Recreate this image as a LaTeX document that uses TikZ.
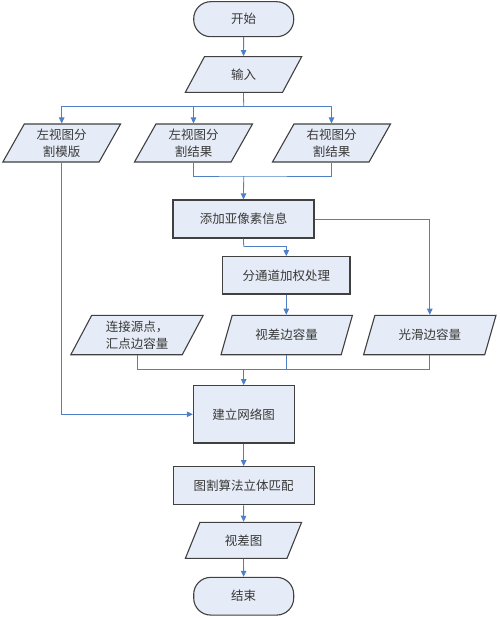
\documentclass[tikz,border=0pt]{standalone}
\usepackage{fontspec}
\setmainfont{Noto Sans CJK SC}
\usetikzlibrary{shapes.geometric,arrows.meta}
\definecolor{boxfill}{HTML}{E6ECF7}
\definecolor{boxline}{HTML}{404040}
\definecolor{linkc}{HTML}{4F7FC4}
\definecolor{txt}{HTML}{383838}
\tikzset{
  base/.style={draw=boxline,line width=1.1pt,fill=boxfill,text=txt,
    font=\fontsize{12.5}{17}\selectfont,inner sep=1pt,align=center},
  procbox/.style={base,rectangle,minimum width=#1},
  term/.style={base,rectangle,rounded corners=17pt,minimum width=100pt},
  iobox/.style={base,trapezium,trapezium left angle=64,trapezium right angle=116,
    trapezium stretches=true},
  link/.style={draw=linkc,line width=0.8pt},
  arr/.style={link,-{Triangle[length=6pt,width=5.5pt]}}
}
\begin{document}
\begin{tikzpicture}[x=1pt,y=-1pt]
\useasboundingbox (0,0) rectangle (500,618);
% nodes
\node[term,minimum height=35pt] (start) at (243.7,19.2) {开始};
\node[iobox,minimum width=116.7pt,minimum height=35.6pt] (in) at (243.5,74.5) {输入};
\node[iobox,minimum width=118pt,minimum height=38pt] (p1) at (61.7,143) {左视图分\\割模版};
\node[iobox,minimum width=118.4pt,minimum height=38pt] (p2) at (193.5,143) {左视图分\\割结果};
\node[iobox,minimum width=118.4pt,minimum height=38pt] (p3) at (331.5,143) {右视图分\\割结果};
\node[procbox=141pt,minimum height=38pt] (add) at (243.5,219) {添加亚像素信息};
\node[procbox=127.3pt,minimum height=37.3pt] (ch) at (286.3,275.3) {分通道加权处理};
\node[iobox,minimum width=132.6pt,minimum height=39.4pt] (p4) at (137,335) {连接源点，\\汇点边容量};
\node[iobox,minimum width=132pt,minimum height=39.4pt] (p5) at (286.7,335) {视差边容量};
\node[iobox,minimum width=133pt,minimum height=39.4pt] (p6) at (429.8,335) {光滑边容量};
\node[procbox=100.7pt,minimum height=57.3pt] (net) at (243.7,414.3) {建立网络图};
\node[procbox=141.3pt,minimum height=38pt] (cut) at (243.7,485.7) {图割算法立体匹配};
\node[iobox,minimum width=116.7pt,minimum height=36pt] (disp) at (243.5,540.3) {视差图};
\node[term,minimum height=37.7pt] (end) at (243.7,596.2) {结束};
% junction coordinates
\coordinate (b1) at (243.7,106);
\coordinate (j1) at (243.7,176);
\coordinate (j2) at (243.7,369);
\coordinate (b2) at (243.7,246.7);
% connectors
\draw[arr] (start) -- (in);
\draw[link] (in.south) -- (b1);
\draw[arr] (b1) -| (p1.north);
\draw[arr] (b1) -| (p2.north);
\draw[arr] (b1) -| (p3.north);
\draw[link] (p2.south) |- (j1) -| (p3.south);
\draw[arr] (j1) -- (add.north);
\draw[link] (add.south) -- (b2);
\draw[arr] (b2) -| (ch.north);
\draw[arr] (add.east) -| (p6.north);
\draw[arr] (ch.south) -- (ch.south |- p5.north);
\draw[link] (p4.south) |- (j2);
\draw[link] (p5.south) |- (j2);
\draw[link] (p6.south) |- (j2);
\draw[arr] (j2) -- (net.north);
\draw[arr] (p1.south) |- (net.west);
\draw[arr] (net) -- (cut);
\draw[arr] (cut) -- (disp);
\draw[arr] (disp) -- (end);
\end{tikzpicture}
\end{document}
